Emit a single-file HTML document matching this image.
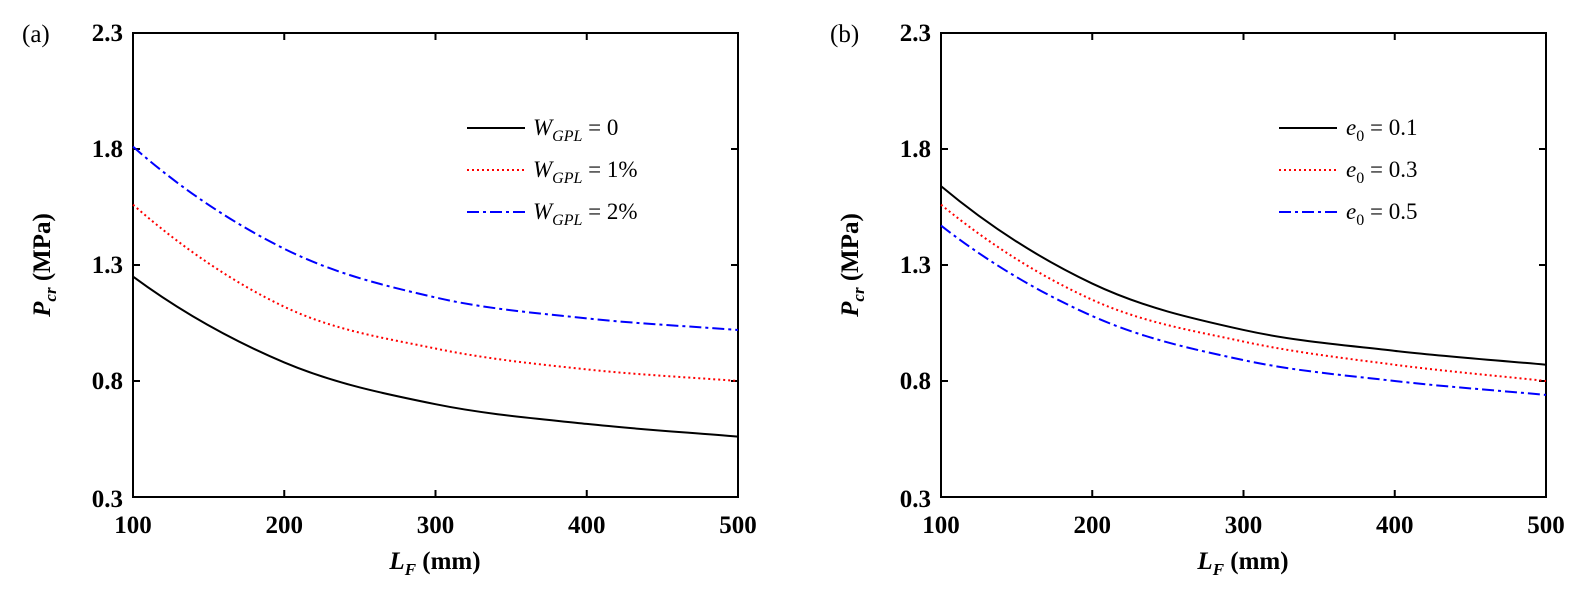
<!DOCTYPE html>
<html><head><meta charset="utf-8"><style>
body{margin:0;background:#fff;}
svg{display:block;font-family:"Liberation Serif",serif;}
.t{font-size:25px;font-weight:bold;}
</style></head><body>
<svg id="s" width="1586" height="592" xmlns="http://www.w3.org/2000/svg"></svg>
<script>
const s=document.getElementById('s');
let h='';
function panel(x0,lab,series,leg,ylx,labx){
  const x1=x0+605,y0=33,y1=497;
  const X=v=>x0+(v-100)/400*605, Y=v=>y1-(v-0.3)*232;
  h+=`<rect x="${x0}" y="${y0}" width="605" height="464" fill="none" stroke="#000" stroke-width="2"/>`;
  [0.3,0.8,1.3,1.8,2.3].forEach(v=>{const y=Y(v);
    h+=`<line x1="${x0}" y1="${y}" x2="${x0+7}" y2="${y}" stroke="#000" stroke-width="2"/><line x1="${x1}" y1="${y}" x2="${x1-7}" y2="${y}" stroke="#000" stroke-width="2"/>`;
    const dy = v===0.3?10:8;
    h+=`<text class="t" x="${x0-10}" y="${y+dy}" text-anchor="end">${v.toFixed(1)}</text>`;});
  [100,200,300,400,500].forEach(v=>{const x=X(v);
    h+=`<line x1="${x}" y1="${y1}" x2="${x}" y2="${y1-7}" stroke="#000" stroke-width="2"/><line x1="${x}" y1="${y0}" x2="${x}" y2="${y0+7}" stroke="#000" stroke-width="2"/>`;
    h+=`<text class="t" x="${x}" y="${y1+36}" text-anchor="middle">${v}</text>`;});
  h+=`<text x="${labx}" y="42" font-size="25">${lab}</text>`;
  h+=`<text class="t" x="${x0+302}" y="${y1+72}" text-anchor="middle"><tspan font-style="italic">L</tspan><tspan font-style="italic" font-size="17" dy="6">F</tspan><tspan dy="-6"> (mm)</tspan></text>`;
  h+=`<text class="t" transform="translate(${ylx},265) rotate(-90)" text-anchor="middle"><tspan font-style="italic">P</tspan><tspan font-style="italic" font-size="17" dy="6">cr</tspan><tspan dy="-6"> (MPa)</tspan></text>`;
  const styles=[['#000',''],['#f00','2 3'],['#00f','12 4 3 4']];
  series.forEach((d,i)=>{
    const xs=[100,200,300,400,500];
    const p=xs.map((x,k)=>[X(x),Y(d[k])]);
    let path=`M${p[0][0]},${p[0][1]}`;
    for(let k=0;k<p.length-1;k++){
      const a=p[k-1]||[2*p[0][0]-p[1][0],2*p[0][1]-p[1][1]+ (p[0][1]-p[1][1])*0.6];
      const b=p[k],c=p[k+1],e=p[k+2]||[2*c[0]-b[0],2*c[1]-b[1]];
      path+=` C${b[0]+(c[0]-a[0])/6},${b[1]+(c[1]-a[1])/6} ${c[0]-(e[0]-b[0])/6},${c[1]-(e[1]-b[1])/6} ${c[0]},${c[1]}`;
    }
    h+=`<path d="${path}" fill="none" stroke="${styles[i][0]}" stroke-width="2" stroke-dasharray="${styles[i][1]}"/>`;
    const ly=128+i*42, lx=leg;
    h+=`<line x1="${lx}" y1="${ly}" x2="${lx+58}" y2="${ly}" stroke="${styles[i][0]}" stroke-width="2" stroke-dasharray="${styles[i][1]}"/>`;
  });
}
panel(133,'(a)',[[1.25,0.88,0.70,0.615,0.56],[1.56,1.12,0.94,0.85,0.80],[1.81,1.37,1.16,1.07,1.02]],467,50,22);
panel(941,'(b)',[[1.64,1.22,1.02,0.93,0.87],[1.56,1.15,0.97,0.87,0.80],[1.47,1.08,0.89,0.80,0.74]],1279,858,830);
['0','1%','2%'].forEach((t,i)=>{h+=`<text x="533" y="${135+i*42}" font-size="23"><tspan font-style="italic">W</tspan><tspan font-style="italic" font-size="16" dy="6">GPL</tspan><tspan dy="-6"> = ${t}</tspan></text>`;});
['0.1','0.3','0.5'].forEach((t,i)=>{h+=`<text x="1346" y="${135+i*42}" font-size="23"><tspan font-style="italic">e</tspan><tspan font-size="16" dy="6">0</tspan><tspan dy="-6"> = ${t}</tspan></text>`;});
s.innerHTML=h;
</script>
</body></html>
